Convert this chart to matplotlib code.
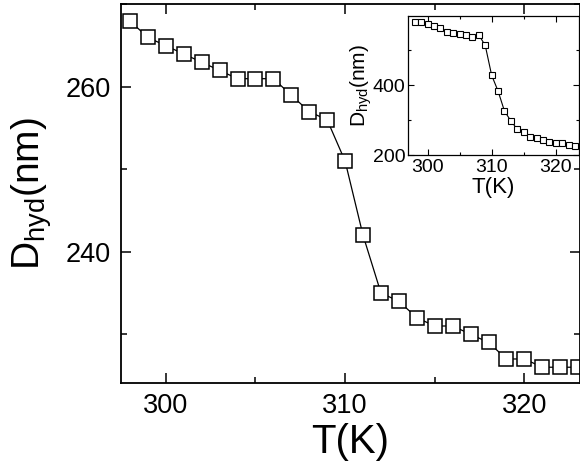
import matplotlib.pyplot as plt
from matplotlib.ticker import MultipleLocator

plt.rcParams['font.family'] = ['Liberation Sans', 'DejaVu Sans']
plt.rcParams['mathtext.default'] = 'regular'

# main panel data
temp = [298, 299, 300, 301, 302, 303, 304, 305, 306, 307, 308, 309, 310,
        311, 312, 313, 314, 315, 316, 317, 318, 319, 320, 321, 322, 323]
d_hyd = [268, 266, 265, 264, 263, 262, 261, 261, 261, 259, 257, 256, 251,
         242, 235, 234, 232, 231, 231, 230, 229, 227, 227, 226, 226, 226]

# inset data
temp_in = temp
d_hyd_in = [579, 579, 573, 568, 563, 552, 549, 547, 543, 538, 543, 513, 428,
            383, 326, 298, 274, 266, 253, 249, 244, 238, 236, 234, 229, 227]

fig = plt.figure(figsize=(5.8, 4.65), dpi=100)
ax = fig.add_axes([0.2086, 0.1757, 0.7914, 0.8157])

ax.plot(temp, d_hyd, color='black', lw=0.9, marker='s', ms=10,
        mfc='white', mec='black', mew=1.1)
ax.set_xlim(297.5, 323.1)
ax.set_ylim(224.05, 270.06)
ax.xaxis.set_major_locator(MultipleLocator(10))
ax.xaxis.set_minor_locator(MultipleLocator(5))
ax.yaxis.set_major_locator(MultipleLocator(20))
ax.yaxis.set_minor_locator(MultipleLocator(10))
ax.tick_params(which='both', direction='in', top=True, right=True,
               labelsize=19.5, width=1.1)
ax.tick_params(which='major', length=7)
ax.tick_params(which='minor', length=4)
ax.tick_params(axis='x', pad=7)
ax.tick_params(axis='y', pad=7.5)
for s in ax.spines.values():
    s.set_linewidth(1.3)
ax.set_xlabel('T(K)', fontsize=29, labelpad=3)
ax.set_ylabel('D$_{hyd}$(nm)', fontsize=28, labelpad=8)

# inset
ins = fig.add_axes([0.704, 0.666, 0.294, 0.2996])
ins.plot(temp_in, d_hyd_in, color='black', lw=0.8, marker='s', ms=4,
         mfc='white', mec='black', mew=0.8)
ins.set_xlim(297.0, 323.6)
ins.set_ylim(200, 597)
ins.xaxis.set_major_locator(MultipleLocator(10))
ins.xaxis.set_minor_locator(MultipleLocator(5))
ins.yaxis.set_major_locator(MultipleLocator(200))
ins.yaxis.set_minor_locator(MultipleLocator(100))
ins.tick_params(which='both', direction='in', top=True, right=True,
                labelsize=14, width=0.8)
ins.tick_params(which='major', length=4)
ins.tick_params(which='minor', length=2.5)
ins.tick_params(axis='x', pad=2.5)
ins.tick_params(axis='y', pad=2)
for s in ins.spines.values():
    s.set_linewidth(0.9)
ins.set_xlabel('T(K)', fontsize=16, labelpad=1)
ins.set_ylabel('D$_{hyd}$(nm)', fontsize=15, labelpad=-1)

fig.savefig('out.png', dpi=100)
